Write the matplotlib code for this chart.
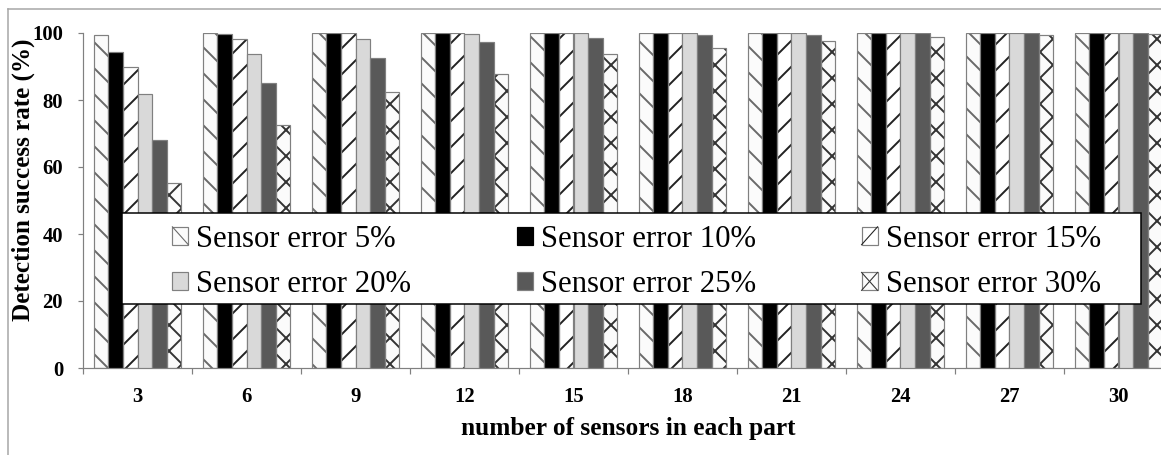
"""
Detection success rate vs number of sensors, grouped by sensor error.
"""
import matplotlib

matplotlib.use("Agg")
import matplotlib.pyplot as plt
import numpy as np
from matplotlib.legend_handler import HandlerBase
from matplotlib.lines import Line2D
from matplotlib.patches import Patch, Rectangle

# --- data -------------------------------------------------------------
groups = ["3", "6", "9", "12", "15", "18", "21", "24", "27", "30"]
series_labels = ["Sensor error 5%", "Sensor error 10%", "Sensor error 15%",
                 "Sensor error 20%", "Sensor error 25%", "Sensor error 30%"]
err5 = [99.3, 100, 100, 100, 100, 100, 100, 100, 100, 100]
err10 = [94.2, 99.8, 100, 100, 100, 100, 100, 100, 100, 100]
err15 = [90.0, 98.1, 100, 100, 100, 100, 100, 100, 100, 100]
err20 = [81.9, 93.7, 98.3, 99.7, 100, 100, 100, 100, 100, 100]
err25 = [68.0, 85.2, 92.4, 97.4, 98.6, 99.3, 99.5, 100, 100, 100]
err30 = [55.2, 72.4, 82.4, 87.9, 93.6, 95.6, 97.5, 98.9, 99.3, 99.6]
yticks = [0, 20, 40, 60, 80, 100]

# --- style ------------------------------------------------------------
DPI = 156
W, H = 1161, 455
EDGE = "#808080"
# (face, hatch, hatch colour)
styles = [("#fbfbfb", "\\\\", "#6a6a6a"),
          ("#000000", None, None),
          ("#ffffff", "//", "#222222"),
          ("#d9d9d9", None, None),
          ("#595959", None, None),
          ("#fbfbfb", "xx", "#333333")]

plt.rcParams["font.family"] = ["Liberation Serif", "DejaVu Serif"]
plt.rcParams["hatch.linewidth"] = 0.9


class SquareHandler(HandlerBase):
    """Small square legend key with a single diagonal for hatched series."""

    def create_artists(self, legend, orig, xd, yd, width, height, fontsize, trans):
        x0, y0 = -xd, -yd
        fc = orig.get_facecolor()
        hatch = orig.get_hatch()
        ec = EDGE if hatch else ("#000000" if fc[0] < 0.1 else EDGE)
        arts = [Rectangle((x0, y0), width, height, facecolor=fc, edgecolor=ec,
                          linewidth=0.55, transform=trans)]
        if hatch:
            hc = orig.get_edgecolor()
            if "\\" in hatch or "x" in hatch:
                arts.append(Line2D([x0, x0 + width], [y0 + height, y0], color=hc,
                                   linewidth=0.5, transform=trans))
            if "/" in hatch or "x" in hatch:
                arts.append(Line2D([x0, x0 + width], [y0, y0 + height], color=hc,
                                   linewidth=0.5, transform=trans))
        return arts


fig = plt.figure(figsize=(W / DPI, H / DPI), dpi=DPI)
ax = fig.add_axes([83 / W, (H - 368) / H, 1090 / W, 335 / H])

x = np.arange(len(groups))
bar_w = 0.134
series = [err5, err10, err15, err20, err25, err30]
for i, (vals, (fc, hatch, hc)) in enumerate(zip(series, styles)):
    pos = x + (i - 2.5) * bar_w
    if hatch:
        ax.bar(pos, vals, bar_w, facecolor=fc, edgecolor=hc, hatch=hatch,
               linewidth=0, zorder=2)
        ax.bar(pos, vals, bar_w, facecolor="none", edgecolor=EDGE,
               linewidth=0.55, zorder=3)
    else:
        ax.bar(pos, vals, bar_w, facecolor=fc, edgecolor=EDGE,
               linewidth=0.55, zorder=3)

ax.set_xlim(-0.5, 9.5)
ax.set_ylim(0, 100)
ax.set_xticks(x)
ax.set_xticklabels(groups, fontweight="bold", fontsize=9.5)
ax.set_xticks(np.arange(-0.5, 10, 1), minor=True)
ax.set_yticks(yticks)
ax.set_yticklabels([str(v) for v in yticks], fontweight="bold", fontsize=9.5)
ax.tick_params(axis="x", which="major", length=0, pad=9.0)
ax.tick_params(axis="x", which="minor", length=2.8, width=0.55, color=EDGE)
ax.tick_params(axis="y", length=2.3, width=0.55, color=EDGE, pad=6.9)
for s in ["top", "right"]:
    ax.spines[s].set_visible(False)
for s in ["left", "bottom"]:
    ax.spines[s].set_color(EDGE)
    ax.spines[s].set_linewidth(0.55)

# axis labels
fig.text(23 / W, 1 - 180 / H, "Detection success rate (%)", rotation=90,
         ha="center", va="center", fontweight="bold", fontsize=11.6)
fig.text(628 / W, 1 - 429 / H, "number of sensors in each part",
         ha="center", va="center", fontweight="bold", fontsize=11.7)

# legend: white box + frameless legend on top
ax.add_patch(Rectangle((0.0358, 0.191), 0.935, 0.272, transform=ax.transAxes,
                       facecolor="white", edgecolor="black", linewidth=0.7,
                       zorder=4))
handles = []
for fc, hatch, hc in styles:
    handles.append(Patch(facecolor=fc, edgecolor=hc or EDGE, hatch=hatch))
order = [0, 3, 1, 4, 2, 5]
ax.legend([handles[i] for i in order], [series_labels[i] for i in order],
          handler_map={Patch: SquareHandler()},
          ncol=3, frameon=False, loc="center left",
          bbox_to_anchor=((157 - 83) / 1090, (368 - 262) / 335),
          borderpad=0, fontsize=14.2, handlelength=0.52, handleheight=0.52,
          handletextpad=0.26, columnspacing=3.43, labelspacing=0.54)

# outer frame (left and top edge visible)
fig.add_artist(Line2D([8 / W, 8 / W], [0, 1 - 9 / H], transform=fig.transFigure,
                      color="#a6a6a6", linewidth=0.7))
fig.add_artist(Line2D([8 / W, 1], [1 - 9 / H, 1 - 9 / H], transform=fig.transFigure,
                      color="#a6a6a6", linewidth=0.7))

fig.savefig("out.png", dpi=DPI)
plt.close(fig)
